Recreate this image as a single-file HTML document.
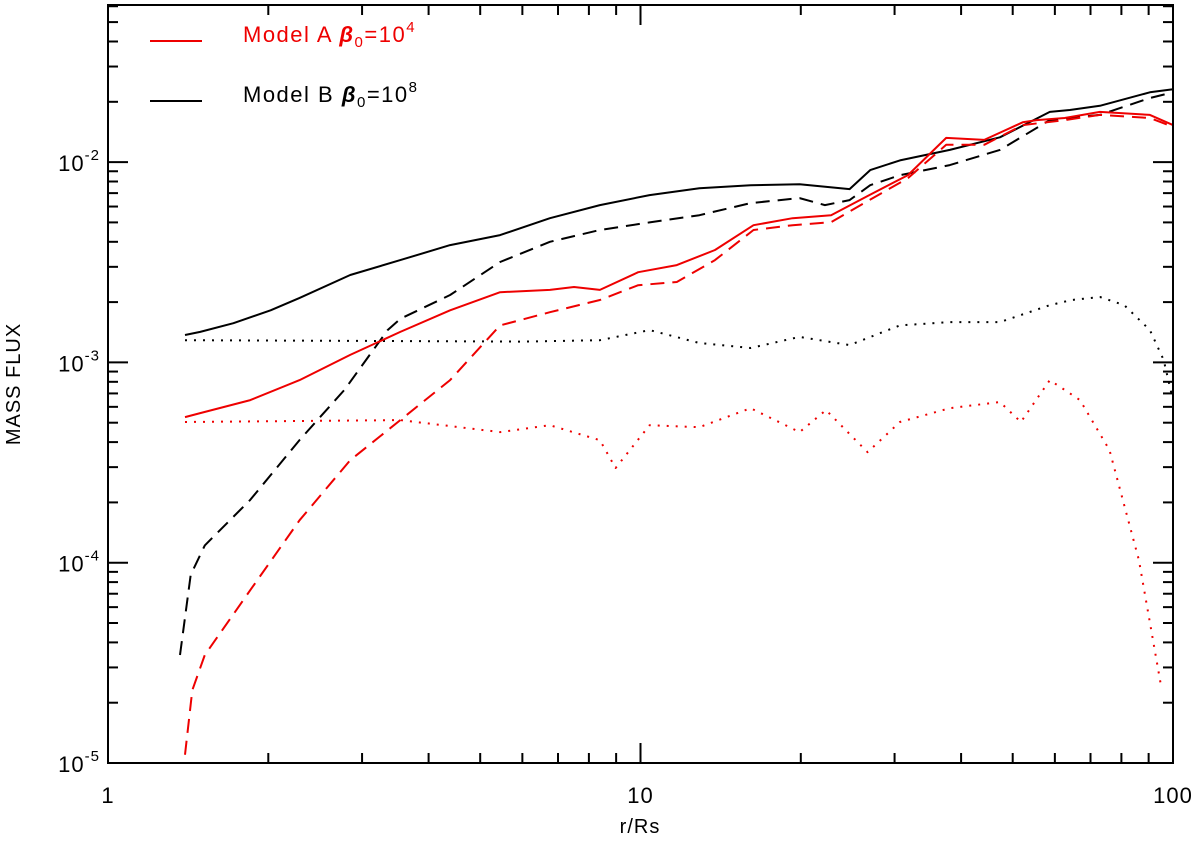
<!DOCTYPE html>
<html><head><meta charset="utf-8"><style>
body{margin:0;background:#fff}
svg{display:block;font-family:"Liberation Sans",sans-serif}
</style></head><body>
<svg id="chart" width="1200" height="842">
<g id="plot"></g>
<g id="axes"></g>
<g>
 <line x1="150" y1="41" x2="202" y2="41" stroke="#e00" stroke-width="2"/>
 <text x="243" y="42" font-size="22" letter-spacing="1.5" fill="#e00">Model A <tspan font-weight="bold" font-style="italic">β</tspan><tspan font-size="15" dy="5">0</tspan><tspan dy="-5">=10</tspan><tspan font-size="15" dy="-10">4</tspan></text>
 <line x1="150" y1="101" x2="202" y2="101" stroke="#000" stroke-width="2"/>
 <text x="243" y="102" font-size="22" letter-spacing="1.5" fill="#000">Model B <tspan font-weight="bold" font-style="italic">β</tspan><tspan font-size="15" dy="5">0</tspan><tspan dy="-5">=10</tspan><tspan font-size="15" dy="-10">8</tspan></text>
</g>
<text x="640" y="833" font-size="20" letter-spacing="1" text-anchor="middle">r/Rs</text>
<text transform="translate(20,384) rotate(-90)" font-size="20" letter-spacing="1" text-anchor="middle">MASS FLUX</text>
</svg>
<script>
const rB=[1.395,1.49,1.72,2.02,2.29,2.85,3.54,4.39,5.45,6.76,8.39,10.4,12.9,16.1,19.9,24.7,27.0,30.7,38.1,47.3,58.7,64.0,72.9,90.5,100];
const bSolid=[0.00137,0.00142,0.00157,0.00182,0.00210,0.00273,0.00324,0.00385,0.00432,0.00525,0.00610,0.00684,0.00741,0.00767,0.00776,0.00733,0.00912,0.0102,0.0115,0.0133,0.0178,0.0182,0.0191,0.0223,0.0231];
const rBd=[1.365,1.43,1.52,1.85,2.29,2.78,3.35,3.54,4.39,5.45,6.76,8.39,10.4,12.9,16.1,19.9,22.2,24.7,27.0,30.7,38.1,47.3,58.7,72.9,90.5,100];
const bDash=[3.46e-5,8.7e-5,1.22e-4,2.06e-4,4.1e-4,7.3e-4,1.45e-3,1.65e-3,2.17e-3,3.17e-3,4.0e-3,4.58e-3,5.0e-3,5.43e-3,6.24e-3,6.61e-3,6.1e-3,6.46e-3,7.67e-3,8.6e-3,9.66e-3,0.0115,0.0162,0.0172,0.0209,0.0223];
const rA=[1.395,1.49,1.85,2.29,2.85,3.54,4.39,5.45,6.76,7.5,8.39,9.9,11.7,13.8,16.3,19.3,22.8,26.9,31.8,37.5,44.2,52.2,55.5,62.6,72.9,90.5,100];
const aSolid=[5.33e-4,5.58e-4,6.48e-4,8.16e-4,1.09e-3,1.42e-3,1.82e-3,2.24e-3,2.30e-3,2.38e-3,2.30e-3,2.82e-3,3.06e-3,3.64e-3,4.84e-3,5.25e-3,5.43e-3,6.84e-3,8.61e-3,0.0132,0.0129,0.0158,0.0162,0.0166,0.0178,0.0172,0.0153];
const rAd=[1.395,1.44,1.52,1.85,2.29,2.85,3.54,4.39,5.45,6.76,8.39,9.9,11.7,13.8,16.3,19.3,22.8,26.9,31.8,37.5,44.2,52.2,62.6,72.9,90.5,100];
const aDash=[1.1e-5,2.31e-5,3.46e-5,7.3e-5,1.63e-4,3.25e-4,5.15e-4,8.16e-4,1.53e-3,1.78e-3,2.05e-3,2.43e-3,2.52e-3,3.24e-3,4.58e-3,4.84e-3,5.01e-3,6.46e-3,8.32e-3,0.0122,0.0122,0.0153,0.0162,0.0172,0.0166,0.0150];
const rBdot=[1.395,3.0,6.0,8.39,10.4,12.9,16.1,19.9,24.7,30.7,38.1,47.3,58.7,64.5,72.9,81.0,90.5,96.0,100];
const bDot=[1.29e-3,1.28e-3,1.27e-3,1.29e-3,1.45e-3,1.25e-3,1.18e-3,1.34e-3,1.22e-3,1.53e-3,1.59e-3,1.59e-3,1.93e-3,2.05e-3,2.12e-3,1.93e-3,1.45e-3,1.03e-3,6.48e-4];
const rAdot=[1.395,3.54,5.45,6.76,8.39,8.98,10.4,12.9,16.1,19.9,22.3,26.7,30.7,38.1,47.3,51.8,58.7,66.9,76.0,86.3,94.9];
const aDot=[5.04e-4,5.15e-4,4.49e-4,4.86e-4,4.09e-4,2.97e-4,4.86e-4,4.75e-4,5.91e-4,4.49e-4,5.78e-4,3.56e-4,5.04e-4,5.91e-4,6.34e-4,5.04e-4,8.16e-4,6.48e-4,3.65e-4,1.03e-4,2.45e-5];
const yTickVals=[1e-5,1e-4,1e-3,1e-2];
const yTickExp=["-5","-4","-3","-2"];
const xTickVals=[1,10,100];
const xTickLabels=["1","10","100"];

const L=108,R=1173,T=5,B=763,Y0=-5,Ydec=200.3;
const X=r=>L+Math.log10(r)*(R-L)/2;
const Y=v=>B-(Math.log10(v)-Y0)*Ydec;
const NS="http://www.w3.org/2000/svg";
const plot=document.getElementById('plot'),axes=document.getElementById('axes');
function mk(tag,attrs,parent){const e=document.createElementNS(NS,tag);for(const k in attrs)e.setAttribute(k,attrs[k]);parent.appendChild(e);return e;}
function series(xs,ys,color,dash,name){
  const d=xs.map((x,i)=>(i?'L':'M')+X(x).toFixed(1)+','+Y(ys[i]).toFixed(1)).join('');
  const p=mk('path',{d:d,fill:'none',stroke:color,'stroke-width':2,'stroke-dasharray':dash,'stroke-linejoin':'round'},plot);
  
  
}
series(rB,bSolid,'#000','none','model-b-solid');
series(rBd,bDash,'#000','14,8','model-b-dashed');
series(rBdot,bDot,'#000','2,7','model-b-dotted');
series(rA,aSolid,'#e00','none','model-a-solid');
series(rAd,aDash,'#e00','14,8','model-a-dashed');
series(rAdot,aDot,'#e00','2,7','model-a-dotted');

const frame=mk('rect',{x:L,y:T,width:R-L,height:B-T,fill:'none',stroke:'#000','stroke-width':2},axes);


for(let e=-5;e<=-2;e++){for(let m=1;m<=9;m++){const v=m*Math.pow(10,e);const y=Y(v);if(y<T)continue;const len=m==1?20:10;
 mk('line',{x1:L,y1:y,x2:L+len,y2:y,stroke:'#000','stroke-width':2},axes);
 mk('line',{x1:R,y1:y,x2:R-len,y2:y,stroke:'#000','stroke-width':2},axes);}}
for(let e=0;e<=1;e++){for(let m=1;m<=9;m++){const r=m*Math.pow(10,e);const x=X(r);const len=m==1?20:10;
 mk('line',{x1:x,y1:B,x2:x,y2:B-len,stroke:'#000','stroke-width':2},axes);
 mk('line',{x1:x,y1:T,x2:x,y2:T+len,stroke:'#000','stroke-width':2},axes);}}
yTickVals.forEach((v,i)=>{const t=mk('text',{x:100,y:Y(v)+9,'font-size':22,'letter-spacing':1,'text-anchor':'end'},axes);
 
 
 const a=mk('tspan',{},t);a.textContent='10';const b=mk('tspan',{'font-size':15,dy:-11},t);b.textContent=yTickExp[i];});
xTickVals.forEach((v,i)=>{const t=mk('text',{x:X(v),y:803,'font-size':22,'letter-spacing':1,'text-anchor':'middle'},axes);
 
 
 t.textContent=xTickLabels[i];});
</script>
</body></html>
